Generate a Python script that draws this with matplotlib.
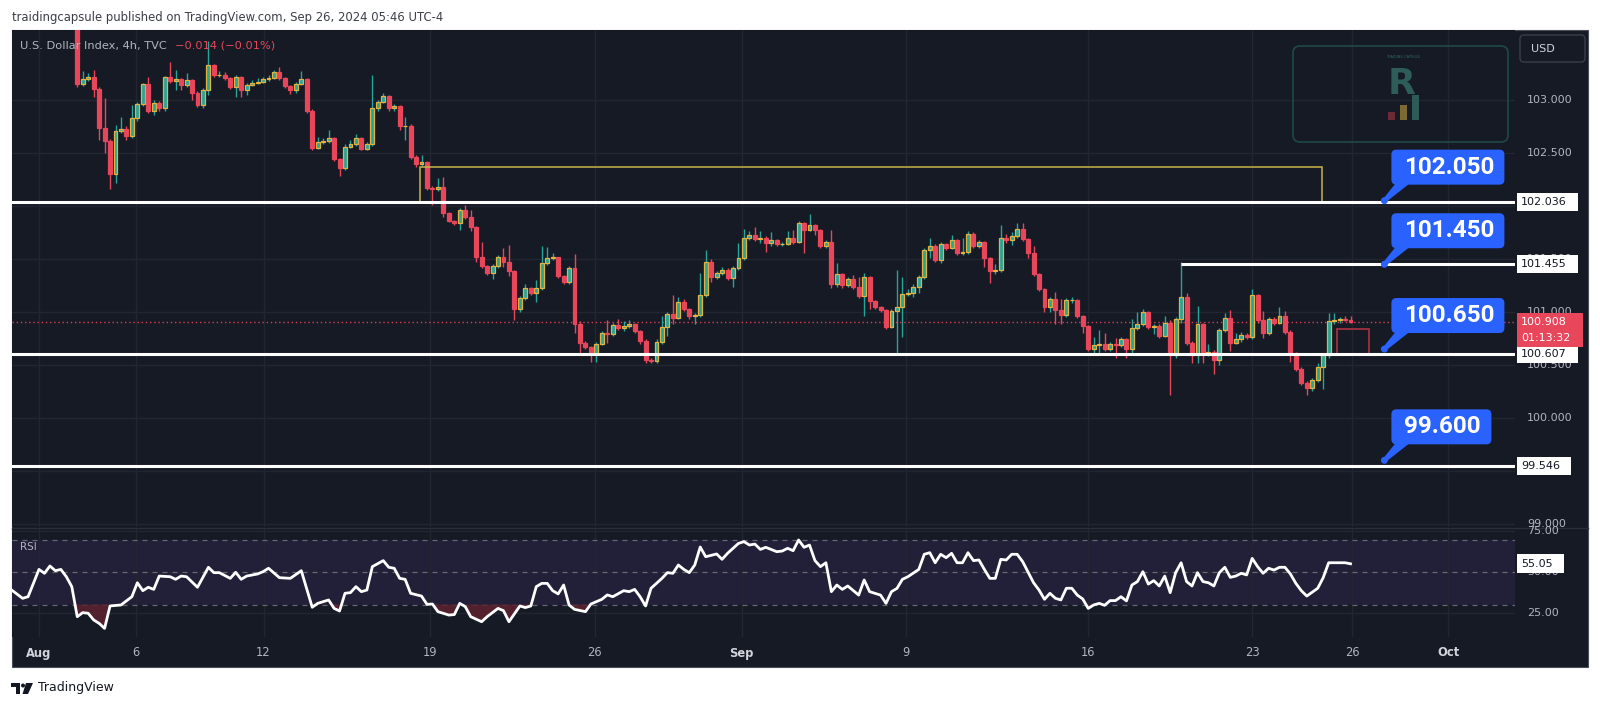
import matplotlib
matplotlib.use("Agg")
import matplotlib.pyplot as plt
import numpy as np
from matplotlib.patches import Rectangle, FancyBboxPatch, Polygon, Circle
from matplotlib.transforms import IdentityTransform, blended_transform_factory
from matplotlib.lines import Line2D

plt.rcParams['font.family'] = ['DejaVu Sans']

# ---------------- data (4h bars, bar 0 = first bar of Aug 1) ----------------
first_open = 104.05
closes = [
    104.12, 104.26, 104.41, 104.36, 104.42, 104.30, 104.33, 103.15, 103.20, 103.22,
    103.10, 102.74, 102.61, 102.30, 102.71, 102.73, 102.66, 102.83, 102.96, 103.15,
    102.90, 102.97, 102.92, 103.22, 103.18, 103.20, 103.14, 103.19, 103.07, 102.95,
    103.09, 103.33, 103.24, 103.24, 103.21, 103.12, 103.22, 103.09, 103.14, 103.16,
    103.17, 103.20, 103.21, 103.26, 103.21, 103.13, 103.09, 103.15, 103.20, 102.90,
    102.55, 102.60, 102.61, 102.64, 102.44, 102.36, 102.56, 102.58, 102.64, 102.54,
    102.58, 102.92, 102.98, 103.04, 102.92, 102.94, 102.75, 102.75, 102.46, 102.40,
    102.41, 102.17, 102.16, 102.18, 101.93, 101.86, 101.84, 101.96, 101.90, 101.80,
    101.52, 101.43, 101.37, 101.43, 101.52, 101.47, 101.39, 101.03, 101.13, 101.23,
    101.18, 101.23, 101.46, 101.51, 101.52, 101.34, 101.28, 101.41, 100.89, 100.71,
    100.67, 100.60, 100.70, 100.80, 100.79, 100.88, 100.85, 100.87, 100.89, 100.82,
    100.73, 100.55, 100.54, 100.72, 100.86, 100.98, 100.94, 101.09, 101.03, 100.96,
    100.97, 101.16, 101.47, 101.33, 101.37, 101.40, 101.32, 101.41, 101.51, 101.70,
    101.73, 101.69, 101.70, 101.65, 101.68, 101.64, 101.64, 101.70, 101.66, 101.84,
    101.77, 101.82, 101.77, 101.62, 101.66, 101.26, 101.36, 101.25, 101.31, 101.24,
    101.15, 101.33, 101.10, 101.05, 101.02, 100.86, 101.01, 101.05, 101.17, 101.18,
    101.24, 101.33, 101.58, 101.62, 101.49, 101.64, 101.60, 101.68, 101.56, 101.57,
    101.74, 101.62, 101.66, 101.51, 101.39, 101.40, 101.70, 101.68, 101.72, 101.78,
    101.69, 101.56, 101.36, 101.22, 101.05, 101.12, 101.02, 100.97, 101.11, 101.11,
    100.96, 100.87, 100.65, 100.69, 100.70, 100.65, 100.70, 100.69, 100.74, 100.65,
    100.85, 100.89, 101.00, 100.86, 100.87, 100.77, 100.90, 100.59, 100.93, 101.14,
    100.71, 100.59, 100.89, 100.60, 100.62, 100.55, 100.83, 100.94, 100.71, 100.74,
    100.78, 100.76, 101.16, 100.92, 100.80, 100.93, 100.90, 100.96, 100.81, 100.61,
    100.46, 100.33, 100.28, 100.36, 100.48, 100.59, 100.91, 100.92, 100.93, 100.92,
    100.908]
highs = [
    104.20, 104.30, 104.48, 104.45, 104.50, 104.44, 104.38, 104.40, 103.27, 103.25,
    103.28, 103.12, 103.02, 102.63, 102.76, 102.84, 102.75, 102.95, 102.98, 103.16,
    103.22, 103.00, 102.99, 103.23, 103.36, 103.28, 103.21, 103.25, 103.20, 103.08,
    103.11, 103.56, 103.34, 103.27, 103.26, 103.22, 103.24, 103.23, 103.16, 103.19,
    103.21, 103.22, 103.24, 103.28, 103.31, 103.22, 103.14, 103.17, 103.27, 103.21,
    102.91, 102.65, 102.64, 102.72, 102.65, 102.45, 102.58, 102.62, 102.68, 102.65,
    102.60, 103.24, 103.00, 103.07, 103.05, 102.96, 102.95, 102.84, 102.77, 102.48,
    102.48, 102.42, 102.19, 102.26, 102.27, 101.94, 101.87, 101.98, 102.01, 101.96,
    101.81, 101.66, 101.44, 101.45, 101.54, 101.60, 101.63, 101.40, 101.15, 101.26,
    101.24, 101.30, 101.62, 101.61, 101.56, 101.50, 101.35, 101.43, 101.55, 100.91,
    100.73, 100.68, 100.72, 100.82, 100.92, 100.90, 100.93, 100.91, 100.92, 100.90,
    100.83, 100.74, 100.57, 100.74, 100.96, 101.00, 101.16, 101.14, 101.12, 101.04,
    100.99, 101.37, 101.58, 101.50, 101.39, 101.42, 101.41, 101.43, 101.65, 101.78,
    101.76, 101.80, 101.76, 101.72, 101.75, 101.69, 101.66, 101.76, 101.77, 101.86,
    101.85, 101.92, 101.83, 101.78, 101.68, 101.77, 101.46, 101.37, 101.33, 101.35,
    101.33, 101.37, 101.34, 101.11, 101.06, 101.03, 101.03, 101.40, 101.33, 101.22,
    101.26, 101.35, 101.60, 101.70, 101.64, 101.66, 101.65, 101.73, 101.69, 101.70,
    101.76, 101.75, 101.68, 101.67, 101.52, 101.45, 101.82, 101.74, 101.75, 101.84,
    101.84, 101.70, 101.62, 101.37, 101.23, 101.14, 101.19, 101.12, 101.13, 101.14,
    101.12, 100.97, 100.88, 100.76, 100.83, 100.80, 100.72, 100.75, 100.76, 100.75,
    100.93, 101.00, 101.03, 101.01, 100.89, 100.89, 100.96, 100.92, 100.95, 101.47,
    101.18, 100.73, 101.06, 100.90, 100.70, 100.64, 100.85, 100.99, 101.02, 100.80,
    100.81, 100.80, 101.22, 101.17, 101.01, 100.95, 100.95, 101.05, 101.01, 100.83,
    100.62, 100.48, 100.35, 100.38, 100.52, 100.61, 100.99, 100.99, 100.95, 100.96,
    100.96]
lows = [
    104.00, 104.10, 104.24, 104.30, 104.33, 104.25, 104.22, 103.125, 103.13, 103.18,
    103.03, 102.62, 102.50, 102.16, 102.22, 102.69, 102.62, 102.64, 102.80, 102.94,
    102.88, 102.86, 102.90, 102.90, 103.16, 103.09, 103.09, 103.12, 103.00, 102.93,
    102.92, 103.05, 103.22, 103.22, 103.19, 103.10, 103.03, 103.03, 103.05, 103.13,
    103.15, 103.16, 103.18, 103.20, 103.19, 103.11, 103.06, 103.07, 103.14, 102.88,
    102.53, 102.54, 102.58, 102.59, 102.42, 102.28, 102.34, 102.55, 102.57, 102.53,
    102.53, 102.57, 102.90, 102.97, 102.90, 102.90, 102.72, 102.62, 102.44, 102.37,
    102.38, 102.15, 102.01, 102.14, 101.90, 101.85, 101.82, 101.77, 101.88, 101.76,
    101.47, 101.41, 101.35, 101.31, 101.41, 101.42, 101.34, 100.92, 101.00, 101.11,
    101.16, 101.09, 101.21, 101.44, 101.49, 101.32, 101.26, 101.26, 100.80, 100.60,
    100.65, 100.53, 100.53, 100.69, 100.71, 100.77, 100.83, 100.82, 100.85, 100.80,
    100.70, 100.52, 100.52, 100.52, 100.70, 100.77, 100.89, 100.93, 101.01, 100.93,
    100.89, 100.95, 101.14, 101.28, 101.31, 101.35, 101.30, 101.24, 101.40, 101.49,
    101.68, 101.67, 101.65, 101.57, 101.62, 101.62, 101.62, 101.63, 101.64, 101.65,
    101.56, 101.76, 101.73, 101.60, 101.60, 101.23, 101.24, 101.23, 101.24, 101.22,
    101.13, 100.96, 101.03, 101.03, 101.00, 100.84, 100.85, 100.59, 100.76, 101.15,
    101.14, 101.18, 101.31, 101.51, 101.47, 101.46, 101.58, 101.59, 101.54, 101.54,
    101.55, 101.60, 101.60, 101.42, 101.27, 101.36, 101.38, 101.65, 101.63, 101.70,
    101.67, 101.51, 101.34, 101.20, 101.00, 101.00, 100.89, 100.89, 100.95, 101.08,
    100.94, 100.80, 100.63, 100.59, 100.60, 100.63, 100.63, 100.57, 100.67, 100.57,
    100.59, 100.83, 100.87, 100.84, 100.79, 100.75, 100.76, 100.22, 100.57, 100.90,
    100.69, 100.52, 100.52, 100.52, 100.58, 100.41, 100.50, 100.81, 100.63, 100.70,
    100.72, 100.74, 100.74, 100.90, 100.75, 100.78, 100.88, 100.89, 100.79, 100.53,
    100.44, 100.31, 100.22, 100.25, 100.34, 100.27, 100.57, 100.89, 100.90, 100.91,
    100.90]

rsi_bar = [
    -5, -3, -2, 0, 1, 2, 3, 4, 5, 6,
    7, 8, 9, 10, 11, 12, 13, 15, 17, 18,
    19, 20, 21, 22, 24, 25, 26, 27, 29, 31,
    32, 33, 35, 36, 37, 38, 40, 41, 42, 44,
    46, 48, 50, 51, 53, 54, 55, 56, 57, 58,
    59, 60, 61, 63, 64, 65, 66, 67, 68, 70,
    71, 72, 73, 75, 76, 77, 78, 79, 81, 82,
    84, 85, 86, 88, 89, 90, 91, 92, 93, 94,
    95, 96, 97, 98, 100, 101, 103, 104, 105, 107,
    108, 109, 110, 111, 112, 114, 115, 116, 117, 118,
    119, 120, 121, 122, 124, 125, 126, 128, 129, 130,
    131, 132, 133, 135, 136, 137, 138, 139, 140, 141,
    142, 143, 144, 145, 146, 147, 148, 150, 151, 152,
    154, 155, 156, 157, 158, 159, 161, 162, 163, 164,
    165, 166, 167, 168, 169, 170, 171, 172, 173, 174,
    175, 176, 177, 178, 179, 180, 182, 183, 184, 185,
    186, 187, 188, 189, 190, 191, 192, 193, 194, 195,
    196, 197, 198, 199, 200, 201, 202, 203, 204, 205,
    206, 207, 208, 209, 210, 211, 212, 213, 214, 215,
    216, 217, 218, 219, 220, 221, 222, 223, 224, 225,
    226, 227, 228, 229, 230, 231, 232, 234, 235, 236,
    238, 239, 240]
rsi_val = [
    38.9, 33.8, 34.8, 51.6, 49.2, 53.7, 50.8, 51.6, 47.1, 41.0,
    22.5, 25.0, 24.6, 20.5, 18.4, 15.3, 29.1, 29.7, 34.8, 43.4,
    38.5, 40.6, 39.3, 47.5, 47.1, 45.5, 47.5, 47.1, 40.6, 52.9,
    49.6, 49.6, 46.1, 49.8, 45.5, 47.5, 48.8, 50.2, 52.3, 46.5,
    46.1, 50.8, 28.3, 30.7, 32.8, 27.6, 26.0, 36.9, 37.3, 41.0,
    37.9, 38.9, 53.3, 57.0, 52.9, 52.3, 46.1, 45.5, 36.9, 35.2,
    30.1, 30.3, 25.6, 23.5, 23.8, 30.7, 28.7, 22.5, 19.4, 22.5,
    27.6, 26.2, 19.4, 29.1, 28.1, 29.1, 41.0, 43.0, 43.0, 38.5,
    36.5, 42.0, 29.7, 27.0, 25.6, 30.3, 33.2, 35.9, 34.8, 38.5,
    37.9, 39.3, 34.8, 29.1, 40.0, 46.1, 49.6, 49.2, 54.3, 51.6,
    49.6, 54.3, 65.4, 59.4, 61.1, 57.8, 61.5, 67.6, 68.7, 66.6,
    67.2, 63.9, 65.2, 62.5, 62.9, 64.6, 63.1, 69.7, 65.2, 66.6,
    57.0, 53.3, 55.7, 37.9, 42.0, 39.3, 41.4, 35.8, 45.1, 37.9,
    35.8, 30.7, 37.9, 39.9, 45.5, 47.1, 51.6, 60.9, 61.9, 55.7,
    60.9, 58.8, 61.5, 55.7, 55.7, 61.9, 57.0, 57.4, 51.6, 46.1,
    46.1, 57.8, 57.4, 60.9, 60.9, 56.4, 43.4, 38.9, 33.2, 36.9,
    33.8, 32.8, 40.0, 40.0, 35.8, 33.4, 27.6, 29.7, 30.7, 29.5,
    32.4, 32.4, 34.8, 32.2, 42.0, 44.1, 50.2, 42.6, 44.7, 41.4,
    47.5, 37.3, 49.6, 55.7, 44.1, 41.4, 49.6, 44.1, 43.4, 41.4,
    49.6, 52.9, 46.7, 47.5, 49.2, 48.2, 58.4, 53.3, 49.2, 52.3,
    51.2, 52.9, 52.9, 48.8, 43.0, 38.5, 35.2, 40.0, 46.5, 55.7,
    55.7, 55.7, 55.05]

time_labels = ['Aug', '6', '12', '19', '26', 'Sep', '9', '16', '23', '26', 'Oct']
time_ticks = [0, 17.7, 41.1, 71.5, 101.7, 128.6, 158.7, 192.0, 222.0, 240.3, 257.9]
month_labels = ('Aug', 'Sep', 'Oct')
grid_prices = [99.0, 99.5, 100.0, 100.5, 101.0, 101.5, 102.0, 102.5, 103.0]
price_tick_labels = [99.0, 100.0, 100.5, 101.0, 101.5, 102.5, 103.0]
rsi_ticks = [25, 50, 75]

levels_full = [102.036, 100.607, 99.546]
level_partial = 101.455
level_partial_start = 209
callout_values = [102.050, 101.450, 100.650, 99.600]
callout_bar = 246.2
zone_x0, zone_x1, zone_lo, zone_hi = 69.7, 234.8, 102.036, 102.368
rbox_x0, rbox_x1, rbox_lo, rbox_hi = 237.6, 243.4, 100.604, 100.840
last_price = 100.908
last_rsi = 55.05
countdown = '01:13:32'
change_text = '\u22120.014 (\u22120.01%)'
symbol_text = 'U.S. Dollar Index, 4h, TVC'
header_text = 'traidingcapsule published on TradingView.com, Sep 26, 2024 05:46 UTC-4'

# ---------------- style ----------------
BG = '#161a25'
GRID = '#222631'
TXT = '#b2b5be'
BULL = '#26a69a'
BULL_EDGE = '#e3b341'
BEAR = '#e8465b'
BLUE = '#2962ff'

W, H = 1600, 707
fig = plt.figure(figsize=(W / 100, H / 100), dpi=100)
fig.patch.set_facecolor('white')
ID = IdentityTransform()


def top(y):
    return H - y


def frac(x0, y0, x1, y1):
    return [x0 / W, 1 - y1 / H, (x1 - x0) / W, (y1 - y0) / H]


fig.add_artist(Rectangle((12, top(667)), 1588 - 12, 667 - 30, transform=ID,
                         fc=BG, ec='#4a4e5a', lw=0.8, zorder=-1))

XMIN, XMAX = -4.94, 270.1
ax = fig.add_axes(frac(12, 30, 1515, 527))
axr = fig.add_axes(frac(12, 528, 1515, 637))
for a in (ax, axr):
    a.set_facecolor(BG)
    for s in a.spines.values():
        s.set_visible(False)
    a.set_xticks([])
    a.set_yticks([])
    a.set_xlim(XMIN, XMAX)
    for t in time_ticks:
        a.axvline(t, color=GRID, lw=1, zorder=0.5)
ax.set_ylim(98.971, 103.660)
axr.set_ylim(10.0, 77.08)
for p in grid_prices:
    ax.axhline(p, color=GRID, lw=1, zorder=0.5)
for r in rsi_ticks:
    axr.axhline(r, color=GRID, lw=1, zorder=0.5)

# ---------------- candles ----------------
c = np.array(closes)
o = np.array([first_open] + closes[:-1])
hi = np.maximum(np.array(highs), np.maximum(o, c))
lo = np.minimum(np.array(lows), np.minimum(o, c))
x = np.arange(len(c))
up = c >= o
ax.vlines(x[up], lo[up], hi[up], color=BULL, lw=1, zorder=2)
ax.vlines(x[~up], lo[~up], hi[~up], color=BEAR, lw=1, zorder=2)
bb = np.minimum(o, c)
bh = np.abs(c - o)
ax.bar(x[up], bh[up], bottom=bb[up], width=0.72, color=BULL,
       edgecolor=BULL_EDGE, lw=0.9, zorder=3)
ax.bar(x[~up], bh[~up], bottom=bb[~up], width=0.72, color=BEAR,
       edgecolor=BEAR, lw=0.9, zorder=3)

# drawings
ax.axhline(last_price, color=BEAR, lw=1, ls=(0, (1, 2)), zorder=1.5, alpha=0.9)
ax.add_patch(Rectangle((zone_x0, zone_lo), zone_x1 - zone_x0, zone_hi - zone_lo,
                       fill=False, ec='#c9b44a', lw=1.1, zorder=4))
ax.add_patch(Rectangle((rbox_x0, rbox_lo), rbox_x1 - rbox_x0, rbox_hi - rbox_lo,
                       fill=False, ec='#a3313f', lw=1.3, zorder=4))
for lv in levels_full:
    ax.axhline(lv, color='white', lw=2.2, zorder=5)
ax.hlines(level_partial, level_partial_start, XMAX, color='white', lw=2.2, zorder=5)

# ---------------- RSI ----------------
axr.axhspan(30, 70, color='#221f38', lw=0, zorder=0.4)
for r in (70, 50, 30):
    axr.axhline(r, color='#787b86', lw=0.9, ls=(0, (4, 4)), zorder=1, alpha=0.8)
rb = np.array(rsi_bar, float)
rv = np.array(rsi_val)
axr.fill_between(rb, rv, 30, where=rv < 30, interpolate=True,
                 color='#5e2230', alpha=0.85, lw=0, zorder=2)
axr.plot(rb, rv, color='white', lw=2.0, zorder=3, solid_joinstyle='round')

# separator between panes
fig.add_artist(Line2D([12, 1588], [top(527.5)] * 2, transform=ID, color='#2a2e39', lw=1, zorder=1))

# ---------------- texts ----------------
fig.text(12, top(17), header_text, transform=ID, fontsize=8.4, color='#3c3f48', va='center')
t1 = fig.text(20, top(46), symbol_text, transform=ID, fontsize=8.2, color=TXT,
              va='center', zorder=10)
rend = fig.canvas.get_renderer()
ext = t1.get_window_extent(rend)
fig.text(ext.x1 + 8, top(46), change_text, transform=ID, fontsize=8.2, color=BEAR,
         va='center', zorder=10)
fig.text(20, top(547), 'RSI', transform=ID, fontsize=7.5, color=TXT, va='center', zorder=10)

trp = blended_transform_factory(ID, ax.transData)
for p in price_tick_labels:
    fig.text(1527, p, f'{p:.3f}', transform=trp, fontsize=8, color=TXT, va='center', zorder=3)
trr = blended_transform_factory(ID, axr.transData)
for r in rsi_ticks:
    fig.text(1527, r, f'{r:.2f}', transform=trr, fontsize=8, color=TXT, va='center', zorder=3)

trt = blended_transform_factory(axr.transData, ID)
for t, lab in zip(time_ticks, time_labels):
    m = lab in month_labels
    fig.text(t, top(653), lab, transform=trt, fontsize=8.3, ha='center', va='center',
             color='#d1d4dc' if m else TXT, fontweight='bold' if m else 'normal')


def tag(axis, value, label, fc, tc, width, h=18):
    yd = axis.transData.transform((0, value))[1]
    fig.add_artist(Rectangle((1517, yd - h / 2), width, h, transform=ID, fc=fc, ec='none', zorder=6))
    fig.text(1521, yd, label, transform=ID, fontsize=8, color=tc, va='center', zorder=7)


tag(ax, 102.036, '102.036', 'white', '#131722', 61)
tag(ax, 101.455, '101.455', 'white', '#131722', 61)
tag(ax, 100.607, '100.607', 'white', '#131722', 61)
tag(ax, 99.546, '99.546', 'white', '#131722', 54)
tag(axr, last_rsi, f'{last_rsi:.2f}', 'white', '#131722', 47, h=19)

yd = ax.transData.transform((0, last_price))[1]
fig.add_artist(Rectangle((1517, yd - 25), 66, 34, transform=ID, fc=BEAR, ec='none', zorder=6))
fig.text(1521, yd, f'{last_price:.3f}', transform=ID, fontsize=8, color='white', va='center', zorder=7)
fig.text(1521, yd - 16, countdown, transform=ID, fontsize=8, color='white', va='center', zorder=7)

# USD box
fig.add_artist(FancyBboxPatch((1520, top(62)), 65, 27, boxstyle='round,pad=0,rounding_size=4',
                              transform=ID, fc=BG, ec='#3a3e4a', lw=1, zorder=6))
fig.text(1531, top(48.5), 'USD', transform=ID, fontsize=8, color='#d1d4dc', va='center', zorder=7)

# callouts
for v in callout_values:
    dx, dy = ax.transData.transform((callout_bar, v))
    w = 113 if v >= 100 else 100
    bx, by = dx + 7, dy + 16
    fig.add_artist(FancyBboxPatch((bx, by), w, 35, boxstyle='round,pad=0,rounding_size=5',
                                  transform=ID, fc=BLUE, ec='none', zorder=8))
    fig.add_artist(Polygon([(dx - 1.5, dy + 1.5), (dx + 1.5, dy - 1.5), (bx + 18, by + 1), (bx + 4, by + 1)],
                           closed=True, transform=ID, fc=BLUE, ec='none', zorder=8))
    fig.add_artist(Circle((dx, dy), 3.5, transform=ID, fc=BLUE, ec='none', zorder=9))
    fig.text(bx + w / 2 + 1, by + 17.5, f'{v:.3f}', transform=ID, fontsize=17.5, color='white',
             fontweight='bold', family=['Roboto', 'DejaVu Sans'], ha='center', va='center', zorder=10)

# watermark logo box
fig.add_artist(FancyBboxPatch((1293, top(142)), 215, 96, boxstyle='round,pad=0,rounding_size=7',
                              transform=ID, fc='none', ec='#1d4a47', lw=1.2, zorder=1))
fig.text(1403, top(57), 'TRAIDING CAPSULE', transform=ID, fontsize=2.5, color='#2c6a66',
         ha='center', va='center', zorder=2)
fig.text(1402, top(84), 'R', transform=ID, fontsize=26, fontweight='bold', color='#2d5c59',
         ha='center', va='center', zorder=2)
fig.add_artist(Rectangle((1388, top(120)), 7, 8, transform=ID, fc='#6b2a34', ec='none', zorder=2))
fig.add_artist(Rectangle((1400, top(120)), 7, 15, transform=ID, fc='#7d6a33', ec='none', zorder=2))
fig.add_artist(Rectangle((1412, top(120)), 7, 25, transform=ID, fc='#2d5b58', ec='none', zorder=2))

# TradingView footer logo
LOGO = '#131722'
fig.add_artist(Rectangle((11, top(687)), 9, 4, transform=ID, fc=LOGO, ec='none'))
fig.add_artist(Rectangle((15.5, top(694)), 4.5, 11, transform=ID, fc=LOGO, ec='none'))
fig.add_artist(Circle((23, top(685.5)), 2, transform=ID, fc=LOGO, ec='none'))
fig.add_artist(Polygon([(26, top(683)), (33, top(683)), (28, top(694)), (22.5, top(694))],
                       closed=True, transform=ID, fc=LOGO, ec='none'))
fig.text(38, top(688), 'TradingView', transform=ID, fontsize=9, color=LOGO, va='center')

fig.savefig('out.png', dpi=100, facecolor='white')
